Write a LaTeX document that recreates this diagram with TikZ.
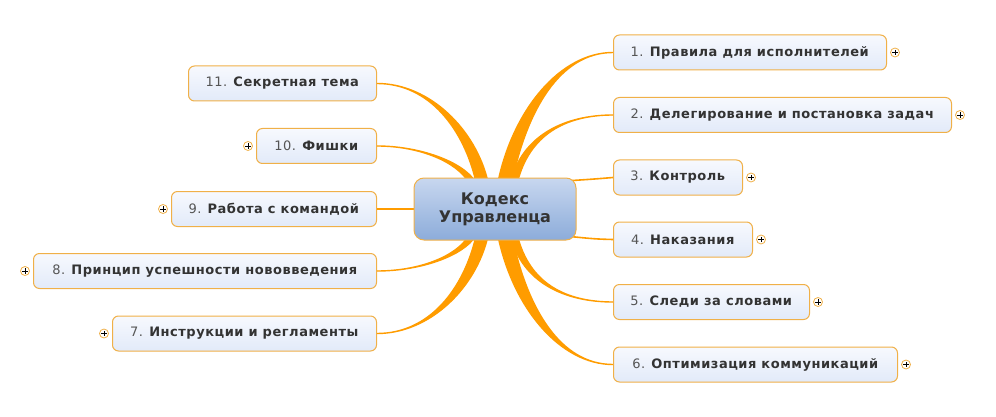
\documentclass[tikz,border=0pt]{standalone}
\usepackage{fontspec}
\setmainfont{DejaVu Sans}
\usetikzlibrary{calc}
\definecolor{br}{HTML}{FF9C00}
\definecolor{bord}{HTML}{F0B048}
\definecolor{btop}{HTML}{F7F9FE}
\definecolor{bbot}{HTML}{E2EAF9}
\definecolor{ctop}{HTML}{C8D7EF}
\definecolor{cbot}{HTML}{8CACDA}
\definecolor{txt}{HTML}{333333}
\definecolor{num}{HTML}{555555}
\newcommand{\taper}[5]{%
  \filldraw[branch] ($(#1)+(-#2,0)$) .. controls ($#3+(-#2,0)$) and #4 .. #5
     .. controls #4 and ($#3+(#2,0)$) .. ($(#1)+(#2,0)$) -- cycle;}
\newcommand{\plusat}[2]{%
  \node[plusc] (#1) at #2 {};
  \draw[line width=0.8pt] ($(#1)+(-2.6,0)$) -- ($(#1)+(2.6,0)$)
                          ($(#1)+(0,-2.6)$) -- ($(#1)+(0,2.6)$);}
\begin{document}
\begin{tikzpicture}[x=1pt,y=-1pt,
  topic/.style={draw=bord, line width=1pt, rounded corners=6pt,
    top color=btop, bottom color=bbot, minimum height=35pt,
    inner xsep=6pt, inner ysep=0pt, text=txt,
    font=\fontsize{13}{15}\selectfont\addfontfeatures{LetterSpace=4}},
  central/.style={draw=bord, line width=1pt, rounded corners=10pt,
    top color=ctop, bottom color=cbot, minimum width=162pt,
    minimum height=62pt, text=txt, align=center,
    font=\fontsize{16}{18}\selectfont\bfseries},
  plusc/.style={circle, draw=bord, fill=white, minimum size=9pt,
    inner sep=0pt, line width=0.8pt},
  branch/.style={fill=br, draw=br, line width=1.4pt},
  thinc/.style={draw=br, line width=1.6pt}]
\useasboundingbox (0,0) rectangle (996,417);

% topics right
\node[topic, anchor=west, minimum width=273pt] (b1) at (613,52.5) {{\color{num}1.} \textbf{Правила для исполнителей}};
\node[topic, anchor=west, minimum width=338pt] (b2) at (613,115) {{\color{num}2.} \textbf{Делегирование и постановка задач}};
\node[topic, anchor=west, minimum width=129pt] (b3) at (613,177.5) {{\color{num}3.} \textbf{Контроль}};
\node[topic, anchor=west, minimum width=139pt] (b4) at (613,239.5) {{\color{num}4.} \textbf{Наказания}};
\node[topic, anchor=west, minimum width=196pt] (b5) at (613,302) {{\color{num}5.} \textbf{Следи за словами}};
\node[topic, anchor=west, minimum width=284pt] (b6) at (613,364.5) {{\color{num}6.} \textbf{Оптимизация коммуникаций}};
% topics left
\node[topic, anchor=east, minimum width=188pt] (b11) at (377,83.5) {{\color{num}11.} \textbf{Секретная тема}};
\node[topic, anchor=east, minimum width=120pt] (b10) at (377,146) {{\color{num}10.} \textbf{Фишки}};
\node[topic, anchor=east, minimum width=205pt] (b9) at (377,209) {{\color{num}9.} \textbf{Работа с командой}};
\node[topic, anchor=east, minimum width=343pt] (b8) at (377,271) {{\color{num}8.} \textbf{Принцип успешности нововведения}};
\node[topic, anchor=east, minimum width=264pt] (b7) at (377,333.5) {{\color{num}7.} \textbf{Инструкции и регламенты}};

% central position
\coordinate (cc) at (495,209);
\coordinate (t1) at ($(cc)+(10,-27)$);
\coordinate (t2) at ($(cc)+(19,-27)$);
\coordinate (t11) at ($(cc)+(-13,-27)$);
\coordinate (t10) at ($(cc)+(-23,-27)$);
\coordinate (u6) at ($(cc)+(10,27)$);
\coordinate (u5) at ($(cc)+(19,27)$);
\coordinate (u7) at ($(cc)+(-13,27)$);
\coordinate (u8) at ($(cc)+(-23,27)$);

% branches
\taper{t1}{7}{(520,110)}{($(b1.west)+(-53,0)$)}{(b1.west)}
\taper{t2}{3.5}{(526,135)}{($(b2.west)+(-48,0)$)}{(b2.west)}
\taper{t11}{6}{(470,130)}{($(b11.east)+(53,0)$)}{(b11.east)}
\taper{t10}{3.5}{(460,162)}{($(b10.east)+(43,0)$)}{(b10.east)}
\taper{u6}{7}{(520,308)}{($(b6.west)+(-53,0)$)}{(b6.west)}
\taper{u5}{3.5}{(526,283)}{($(b5.west)+(-48,0)$)}{(b5.west)}
\taper{u7}{6}{(470,288)}{($(b7.east)+(53,0)$)}{(b7.east)}
\taper{u8}{3.5}{(460,256)}{($(b8.east)+(43,0)$)}{(b8.east)}
\draw[thinc] ($(cc)+(70,-28)$) .. controls (595,179) .. (b3.west);
\draw[thinc] ($(cc)+(70,27)$) .. controls (595,239) .. (b4.west);
\draw[thinc] ($(cc)+(-70,0)$) -- (b9.east);

\node[central] (c) at (cc) {Кодекс\\Управленца};

% expand markers
\plusat{p1}{($(b1.east)+(8,0)$)}
\plusat{p2}{($(b2.east)+(8,0)$)}
\plusat{p3}{($(b3.east)+(8,0)$)}
\plusat{p4}{($(b4.east)+(8,0)$)}
\plusat{p5}{($(b5.east)+(8,0)$)}
\plusat{p6}{($(b6.east)+(8,0)$)}
\plusat{p10}{($(b10.west)+(-8,0)$)}
\plusat{p9}{($(b9.west)+(-8,0)$)}
\plusat{p8}{($(b8.west)+(-8,0)$)}
\plusat{p7}{($(b7.west)+(-8,0)$)}
\end{tikzpicture}
\end{document}
